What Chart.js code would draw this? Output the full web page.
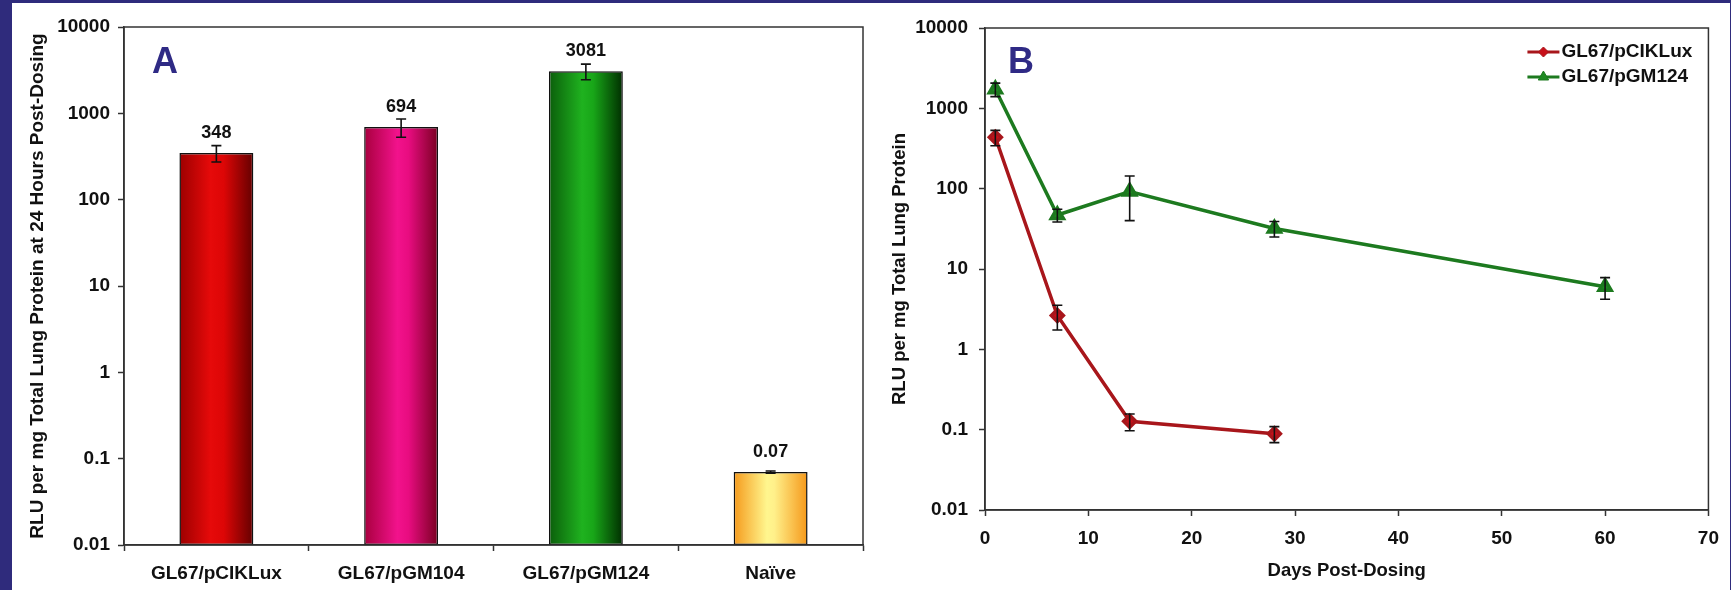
<!DOCTYPE html>
<html>
<head>
<meta charset="utf-8">
<script src="https://cdn.jsdelivr.net/npm/chart.js@4.4.1/dist/chart.umd.min.js"></script>
<style>
  html, body { margin: 0; padding: 0; }
  body { width: 1731px; height: 590px; background: #2f2b7c; position: relative; overflow: hidden; }
  #panel { position: absolute; left: 12px; top: 3px; width: 1718px; height: 587px; background: #fff; }
  #chartA { position: absolute; left: 0; top: 0; }
  #chartB { position: absolute; left: 868px; top: 0; }
</style>
</head>
<body>
<div id="panel">
  <canvas id="chartA" width="868" height="587"></canvas>
  <canvas id="chartB" width="850" height="587"></canvas>
</div>
<script>
// panel A: bars at 24 hours
const categories = ["GL67/pCIKLux", "GL67/pGM104", "GL67/pGM124", "Naïve"];
const barValues = [348, 694, 3081, 0.07];
const barErrors = [75, 165, 630, 0.002];
const barLabels = ["348", "694", "3081", "0.07"];
const yTicks = [0.01, 0.1, 1, 10, 100, 1000, 10000];

// panel B: time course
const daysLux = [1, 7, 14, 28];
const luxValues = [437, 2.64, 0.127, 0.089];
const luxErrors = [95, 0.9, 0.03, 0.02];
const daysGM = [1, 7, 14, 28, 60];
const gmValues = [1727, 47, 92, 32, 6];
const gmErrors = [330, 8.5, 52, 7, 1.8];
const xTicksB = [0, 10, 20, 30, 40, 50, 60, 70];

const FONT = "'Liberation Sans', Arial, sans-serif";
const INK = "#111";
const NAVY = "#2f2a85";

Chart.defaults.font.family = FONT;
Chart.defaults.font.weight = "bold";
Chart.defaults.font.size = 19;
Chart.defaults.color = INK;

const barStops = [
  [[0, "#9c0000"], [0.42, "#e60a0a"], [0.6, "#dd0606"], [1, "#640000"]],
  [[0, "#a8003e"], [0.45, "#f2128c"], [0.6, "#e80c80"], [1, "#7a0022"]],
  [[0, "#0b5e0b"], [0.45, "#1fb21f"], [0.6, "#18a618"], [1, "#002e00"]],
  [[0, "#f59a1c"], [0.45, "#fff68e"], [0.55, "#fff08a"], [1, "#f5981a"]]
];

function barFill(c) {
  if (c.type !== "data") return "#ccc";
  const chart = c.chart;
  const xs = chart.scales.x;
  const stops = barStops[c.dataIndex];
  if (!chart.chartArea || !xs) return stops[1][1];
  const w = xs.width / categories.length * 0.4;
  const cx = xs.getPixelForValue(c.dataIndex);
  const g = chart.ctx.createLinearGradient(cx - w / 2, 0, cx + w / 2, 0);
  stops.forEach(s => g.addColorStop(s[0], s[1]));
  return g;
}

// error bars, from the scale
const errorBars = {
  id: "errorBars",
  afterDatasetsDraw(chart) {
    const ctx = chart.ctx;
    const ys = chart.scales.y;
    chart.data.datasets.forEach((ds, di) => {
      if (!ds.errors) return;
      const meta = chart.getDatasetMeta(di);
      ctx.save();
      ctx.strokeStyle = "#111";
      ctx.lineWidth = 1.6;
      meta.data.forEach((el, i) => {
        const v = ds.values[i];
        const e = ds.errors[i];
        const yTop = ys.getPixelForValue(v + e);
        const yBot = ys.getPixelForValue(Math.max(v - e, 1e-4));
        const x = el.x;
        ctx.beginPath();
        ctx.moveTo(x, yTop); ctx.lineTo(x, yBot);
        ctx.moveTo(x - 5, yTop); ctx.lineTo(x + 5, yTop);
        ctx.moveTo(x - 5, yBot); ctx.lineTo(x + 5, yBot);
        ctx.stroke();
      });
      ctx.restore();
    });
  }
};

const frame = {
  id: "frame",
  afterDraw(chart, args, opts) {
    const { ctx, chartArea: a } = chart;
    ctx.save();
    ctx.strokeStyle = "#333";
    ctx.lineWidth = 1.5;
    ctx.strokeRect(a.left, a.top, a.right - a.left, a.bottom - a.top);
    ctx.fillStyle = NAVY;
    ctx.font = "bold 36px " + FONT;
    ctx.textAlign = "center";
    ctx.textBaseline = "middle";
    ctx.fillText(opts.letter, a.left + opts.dx, a.top + opts.dy);
    ctx.restore();
  }
};

const valueLabels = {
  id: "valueLabels",
  afterDatasetsDraw(chart) {
    const ctx = chart.ctx;
    const meta = chart.getDatasetMeta(0);
    ctx.save();
    ctx.fillStyle = INK;
    ctx.font = "bold 18px " + FONT;
    ctx.textAlign = "center";
    ctx.textBaseline = "middle";
    meta.data.forEach((el, i) => ctx.fillText(barLabels[i], el.x, el.y - 20));
    ctx.restore();
  }
};

const lineLegend = {
  id: "lineLegend",
  afterDraw(chart) {
    const { ctx, chartArea: a } = chart;
    chart.data.datasets.forEach((ds, i) => {
      const y = a.top + 24 + i * 25;
      const x0 = a.right - 181;
      ctx.save();
      ctx.strokeStyle = ds.borderColor;
      ctx.fillStyle = ds.backgroundColor;
      ctx.lineWidth = 3;
      ctx.beginPath();
      ctx.moveTo(x0, y); ctx.lineTo(x0 + 32, y);
      ctx.stroke();
      ctx.lineWidth = 1;
      Chart.helpers.drawPoint(ctx, {
        pointStyle: ds.pointStyle, radius: ds.pointRadius - 1, borderWidth: 1
      }, x0 + 16, y);
      ctx.fillStyle = INK;
      ctx.font = "bold 19px " + FONT;
      ctx.textAlign = "left";
      ctx.textBaseline = "middle";
      ctx.fillText(ds.label, x0 + 34, y);
      ctx.restore();
    });
  }
};

function logAxis(width, titleText, titlePad, tickPad, titleSize) {
  return {
    type: "logarithmic",
    min: 0.01,
    max: 10000,
    afterBuildTicks: s => { s.ticks = yTicks.map(v => ({ value: v })); },
    afterFit: s => { s.width = width; },
    ticks: { callback: v => String(v), padding: tickPad, color: INK, font: { size: 19 } },
    grid: { drawOnChartArea: false, tickLength: 6, color: "#333", tickWidth: 1.5 },
    border: { color: "#333", width: 1.5 },
    title: { display: true, text: titleText, color: INK, font: { size: titleSize }, padding: { top: titlePad, bottom: 0 } }
  };
}

new Chart(document.getElementById("chartA"), {
  type: "bar",
  data: {
    labels: categories,
    datasets: [{
      label: "RLU",
      data: barValues,
      values: barValues,
      errors: barErrors,
      backgroundColor: barFill,
      borderColor: "#111",
      borderWidth: 1.5,
      borderSkipped: false,
      categoryPercentage: 0.8,
      barPercentage: 0.5
    }]
  },
  options: {
    responsive: false,
    animation: false,
    layout: { padding: { top: 24, right: 17, left: 0, bottom: 0 } },
    plugins: {
      legend: { display: false },
      tooltip: { enabled: false },
      frame: { letter: "A", dx: 41, dy: 36 }
    },
    scales: {
      x: {
        afterFit: s => { s.height = 45; },
        ticks: { padding: 11, color: INK, font: { size: 19 } },
        grid: { drawOnChartArea: false, tickLength: 6, color: "#333", tickWidth: 1.5, offset: true },
        border: { color: "#333", width: 1.5 }
      },
      y: logAxis(112, "RLU per mg Total Lung Protein at 24 Hours Post-Dosing", 14, 8, 19)
    }
  },
  plugins: [errorBars, valueLabels, frame]
});

new Chart(document.getElementById("chartB"), {
  type: "line",
  data: {
    datasets: [{
      label: "GL67/pCIKLux",
      data: daysLux.map((d, i) => ({ x: d, y: luxValues[i] })),
      values: luxValues,
      errors: luxErrors,
      borderColor: "#a8161b",
      backgroundColor: "#c8101a",
      pointBorderColor: "#a8161b",
      pointStyle: "rectRot",
      pointRadius: 6,
      borderWidth: 3.5,
      tension: 0
    }, {
      label: "GL67/pGM124",
      data: daysGM.map((d, i) => ({ x: d, y: gmValues[i] })),
      values: gmValues,
      errors: gmErrors,
      borderColor: "#1d7a1f",
      backgroundColor: "#1f8a22",
      pointBorderColor: "#1d7a1f",
      pointStyle: "triangle",
      pointRadius: 7,
      borderWidth: 3.5,
      tension: 0
    }]
  },
  options: {
    responsive: false,
    animation: false,
    layout: { padding: { top: 25, right: 21, left: 0, bottom: 0 } },
    plugins: {
      legend: { display: false },
      tooltip: { enabled: false },
      frame: { letter: "B", dx: 36, dy: 35 }
    },
    scales: {
      x: {
        type: "linear",
        min: 0,
        max: 70,
        afterBuildTicks: s => { s.ticks = xTicksB.map(v => ({ value: v })); },
        afterFit: s => { s.height = 80; },
        ticks: { padding: 11, color: INK, font: { size: 19 } },
        grid: { drawOnChartArea: false, tickLength: 6, color: "#333", tickWidth: 1.5 },
        border: { color: "#333", width: 1.5 },
        title: { display: true, text: "Days Post-Dosing", color: INK, font: { size: 18.5 }, padding: { top: 0, bottom: 8 } }
      },
      y: logAxis(105, "RLU per mg Total Lung Protein", 9, 11, 18.5)
    }
  },
  plugins: [errorBars, lineLegend, frame]
});
</script>
</body>
</html>
